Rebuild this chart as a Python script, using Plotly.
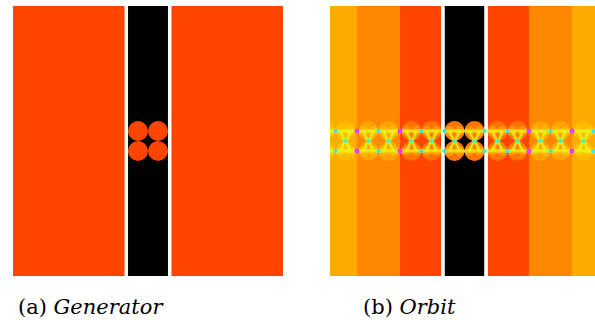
import numpy as np
import plotly.graph_objects as go

# ---------------- data ----------------
half_width = 13.5                       # half size of each square panel (units of circle radius)
strip_edges = [-2.0, 2.0]               # fundamental strip (black)
separator_x = [-2.17, 2.17]             # white boundary lines
gen_side_bands = [[-13.5, -2.0], [2.0, 13.5]]
gen_circle_x = [-1, 1, -1, 1]
gen_circle_y = [1, 1, -1, -1]
circle_r = 1.0

translation = 4.3
orbit_band_k = [-3, -2, -1, 1, 2, 3]    # word length of translation
depth_colors = ["#000000", "#FF4500", "#FF8800", "#FFAA00"]
orbit_circle_overlay = ["rgba(255,225,0,0.30)"]
orbit_inner_overlay = ["rgba(255,235,40,0.26)"]

cyan_pts_x = [-12.9, -8.6, -4.3, -2.0, 2.0, 4.3, 8.6, 12.9]
magenta_pts_x = [-10.75, -6.45, 6.45, 10.75]

caption_a = "(a) <i>Generator</i>"
caption_b = "(b) <i>Orbit</i>"

# --------------- figure ---------------
W, H = 595, 320
fig = go.Figure()
shapes = []

def rect(xref, yref, x0, x1, color):
    shapes.append(dict(type="rect", xref=xref, yref=yref, x0=x0, x1=x1,
                       y0=-half_width, y1=half_width, fillcolor=color,
                       line=dict(width=0), layer="below"))

def circ(xref, yref, cx, cy, r, color):
    shapes.append(dict(type="circle", xref=xref, yref=yref, x0=cx - r, x1=cx + r,
                       y0=cy - r, y1=cy + r, fillcolor=color,
                       line=dict(width=0), layer="below"))

def vline(xref, yref, x):
    shapes.append(dict(type="line", xref=xref, yref=yref, x0=x, x1=x,
                       y0=-half_width, y1=half_width,
                       line=dict(color="white", width=3.5), layer="below"))

# panel (a)
for b in gen_side_bands:
    rect("x", "y", b[0], b[1], depth_colors[1])
rect("x", "y", strip_edges[0], strip_edges[1], depth_colors[0])
for cx, cy in zip(gen_circle_x, gen_circle_y):
    circ("x", "y", cx, cy, circle_r, depth_colors[1])
for sx in separator_x:
    vline("x", "y", sx)

# panel (b)
for k in orbit_band_k:
    d = abs(k)
    rect("x2", "y2", k * translation - translation / 2, k * translation + translation / 2,
         depth_colors[d])
rect("x2", "y2", strip_edges[0], strip_edges[1], depth_colors[0])
orbit_cx = []
for k in [0] + orbit_band_k:
    for cx, cy in zip(gen_circle_x, gen_circle_y):
        x = cx + k * translation
        orbit_cx.append(x)
        if k == 0:
            circ("x2", "y2", x, cy, circle_r, depth_colors[1])
        circ("x2", "y2", x, cy, circle_r, orbit_circle_overlay[0])
        for s in (-0.5, 0.5):
            circ("x2", "y2", x + s, cy, circle_r / 2, orbit_inner_overlay[0])
for sx in separator_x:
    vline("x2", "y2", sx)

# limit set approximation: horizontal chains and hourglasses
glow = dict(color="rgba(255,255,0,0.38)", width=4)
core = dict(color="#d0ff30", width=1.1)
for yy in (1, -1):
    for ln in (glow, core):
        fig.add_trace(go.Scatter(x=[-half_width, half_width], y=[yy, yy], mode="lines",
                                 line=ln, xaxis="x2", yaxis="y2", hoverinfo="skip",
                                 showlegend=False))
t = np.linspace(-1, 1, 41)
hx, hy = [], []
for x in sorted(set(orbit_cx)):
    for s in (-1, 1):
        hx += list(x + s * 0.5 * np.abs(t) ** 0.7) + [None]
        hy += list(t) + [None]
for ln in (glow, core):
    fig.add_trace(go.Scatter(x=hx, y=hy, mode="lines", line=ln, xaxis="x2", yaxis="y2",
                             hoverinfo="skip", showlegend=False))

ux = sorted(set(orbit_cx))
fig.add_trace(go.Scatter(x=ux, y=[0] * len(ux), mode="markers",
                         marker=dict(color="#30ffd0", size=4), xaxis="x2", yaxis="y2",
                         hoverinfo="skip", showlegend=False))
fig.add_trace(go.Scatter(x=cyan_pts_x * 2, y=[1] * len(cyan_pts_x) + [-1] * len(cyan_pts_x),
                         mode="markers", marker=dict(color="#30e8ff", size=4),
                         xaxis="x2", yaxis="y2", hoverinfo="skip", showlegend=False))
fig.add_trace(go.Scatter(x=magenta_pts_x * 2, y=[1] * len(magenta_pts_x) + [-1] * len(magenta_pts_x),
                         mode="markers", marker=dict(color="#e040ff", size=5),
                         xaxis="x2", yaxis="y2", hoverinfo="skip", showlegend=False))

# pixel geometry (window coordinates)
ax = dict(visible=False, showgrid=False, zeroline=False, fixedrange=True)
ydom = [(320 - 276) / H, (320 - 6) / H]
yrange = [-half_width, half_width]
cap_font = dict(family="DejaVu Serif", size=21, color="black")
fig.update_layout(
    width=W, height=H, margin=dict(l=0, r=0, t=0, b=0),
    paper_bgcolor="white", plot_bgcolor="white",
    xaxis=dict(ax, domain=[13 / W, 283 / W], range=[-half_width, half_width]),
    yaxis=dict(ax, domain=ydom, range=yrange),
    xaxis2=dict(ax, domain=[330 / W, 1.0], range=[-13.45, 13.05]),
    yaxis2=dict(ax, domain=ydom, range=yrange, anchor="x2"),
    shapes=shapes,
    annotations=[
        dict(text=caption_a, x=16 / W, y=(320 - 307) / H, xref="paper", yref="paper",
             xanchor="left", yanchor="middle", showarrow=False, font=cap_font),
        dict(text=caption_b, x=361 / W, y=(320 - 307) / H, xref="paper", yref="paper",
             xanchor="left", yanchor="middle", showarrow=False, font=cap_font),
    ],
)
fig.write_html("out.html", config={"displayModeBar": False},
               post_script="document.body.style.margin='0px';document.body.style.overflow='hidden';")
